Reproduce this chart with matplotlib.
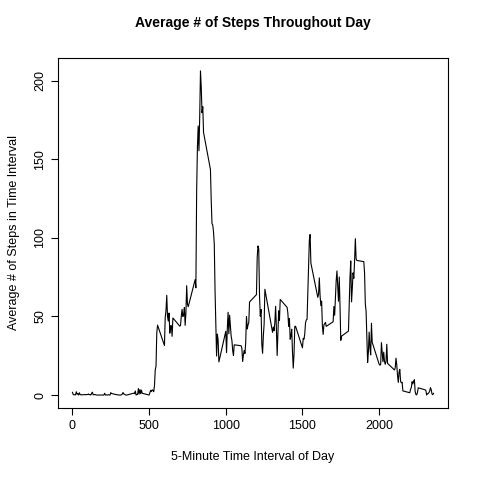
import matplotlib
matplotlib.use("Agg")
import matplotlib.pyplot as plt
import numpy as np

plt.rcParams['font.family'] = ['Liberation Sans', 'DejaVu Sans']

hours = np.repeat(np.arange(24) * 100, 12)
minutes = np.tile(np.arange(0, 60, 5), 24)
interval = hours + minutes

steps = [
    1.717, 0.340, 0.132, 0.151, 0.075, 2.094, 0.528, 0.868, 0, 1.472, 0.302, 0.132,
    0.321, 0.679, 0.151, 0.340, 0, 1.113, 1.830, 0.170, 0.170, 0.377, 0.264, 0,
    0, 0, 1.132, 0, 0, 0.132, 0, 0.226, 0, 0, 1.547, 0.943,
    0, 0, 0, 0, 0.208, 0.623, 1.623, 0.585, 0.491, 0.075, 0, 0,
    1.189, 0.943, 2.566, 0, 0.340, 0.358, 4.113, 0.660, 3.491, 0.830, 3.113, 1.113,
    0, 1.566, 3.000, 2.245, 3.321, 2.962, 2.094, 6.057, 16.019, 18.340, 39.453, 44.491,
    31.491, 49.264, 53.774, 63.453, 49.962, 47.075, 52.151, 39.340, 44.019, 44.170, 37.358, 49.038,
    43.811, 44.377, 50.509, 54.509, 49.925, 50.981, 55.679, 44.321, 52.264, 69.547, 57.849, 56.151,
    73.377, 68.208, 129.434, 157.528, 171.151, 155.396, 177.302, 206.170, 195.925, 179.566, 183.396, 167.019,
    143.453, 124.038, 109.113, 108.113, 103.717, 95.962, 66.208, 45.226, 24.792, 38.755, 34.981, 21.057,
    40.566, 26.981, 42.415, 52.660, 38.925, 50.792, 44.283, 37.415, 34.698, 28.340, 25.094, 31.943,
    31.358, 29.679, 21.321, 25.547, 28.377, 26.472, 33.434, 49.981, 42.038, 44.604, 46.038, 59.189,
    63.868, 87.698, 94.849, 92.774, 63.396, 50.170, 54.472, 32.415, 26.528, 37.736, 45.057, 67.283,
    42.340, 39.887, 43.264, 40.981, 46.245, 56.434, 42.755, 25.132, 39.962, 53.547, 47.321, 60.811,
    55.755, 51.962, 43.585, 48.698, 35.472, 37.547, 41.849, 27.509, 17.113, 26.075, 43.623, 43.774,
    30.019, 36.075, 35.491, 38.849, 45.962, 47.755, 48.132, 65.321, 82.906, 98.660, 102.113, 83.962,
    62.132, 64.132, 74.547, 63.170, 56.906, 59.774, 43.868, 38.566, 44.660, 45.453, 46.208, 43.679,
    46.623, 56.302, 50.717, 61.226, 72.717, 78.943, 68.943, 59.660, 75.094, 56.509, 34.774, 37.453,
    40.679, 58.019, 74.698, 85.321, 59.264, 67.774, 77.698, 74.245, 85.340, 99.453, 86.585, 85.604,
    84.868, 77.830, 58.038, 53.358, 36.321, 20.717, 27.396, 40.019, 30.208, 25.547, 45.660, 33.528,
    19.623, 19.019, 19.340, 33.340, 26.811, 21.170, 27.302, 21.340, 19.547, 21.321, 32.302, 20.151,
    15.943, 17.226, 23.453, 19.245, 12.453, 8.019, 14.660, 16.302, 8.679, 7.792, 8.132, 2.623,
    1.453, 3.679, 4.811, 8.509, 7.075, 8.698, 9.755, 2.208, 0.321, 0.113, 1.604, 4.604,
    3.302, 2.849, 0, 0.830, 0.962, 1.585, 2.604, 4.698, 3.302, 0.642, 0.226, 1.075,
]

fig = plt.figure(figsize=(4.8, 4.8), dpi=100)
ax = fig.add_axes([58 / 480, 72 / 480, 390 / 480, 350 / 480])
ax.plot(interval, steps, color='black', linewidth=0.8)
ax.set_xlim(-94.2, 2449.2)
ax.set_ylim(-8.25, 214.4)
ax.set_xticks([0, 500, 1000, 1500, 2000])
ax.set_yticks([0, 50, 100, 150, 200])
ax.tick_params(direction='out', length=5, labelsize=9)
for lbl in ax.get_yticklabels():
    lbl.set_rotation(90)
    lbl.set_va('center')
ax.set_title('Average # of Steps Throughout Day', fontsize=10, fontweight='bold', pad=22)
ax.set_xlabel('5-Minute Time Interval of Day', fontsize=9, labelpad=14)
ax.set_ylabel('Average # of Steps in Time Interval', fontsize=9, labelpad=10)
fig.savefig('out.png', dpi=100)
